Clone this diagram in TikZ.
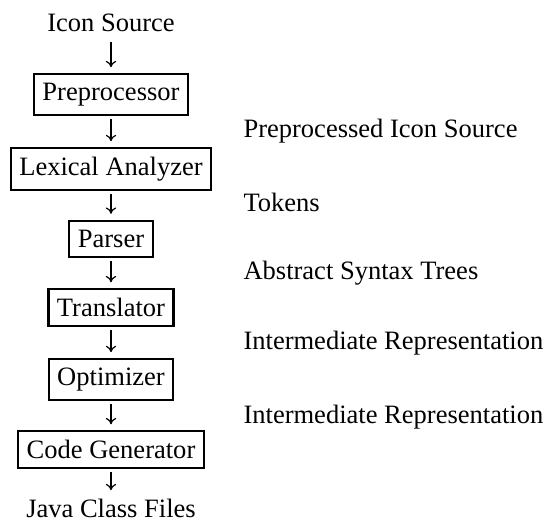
\documentclass[tikz,border=0pt]{standalone}
\usepackage{fontspec}
\setmainfont{Liberation Serif}
\usetikzlibrary{arrows.meta}

\begin{document}
\begin{tikzpicture}[x=0.377pt,y=-0.377pt,
  >={To[width=3.9pt,length=2.4pt]},
  phase/.style={draw,line width=0.8pt,inner xsep=3.2pt,minimum height=13.8pt},
  data/.style={inner sep=0pt,anchor=base west},
  flow/.style={->,line width=0.45pt,shorten <=1.1pt,shorten >=2.2pt}]
\useasboundingbox (0,0) rectangle (547,525);
% compiler phases
\node [anchor=base] (src) at (111,32) {Icon Source};
\node [phase] (pre) at (111,94.5) {Preprocessor};
\node [phase] (lex) at (111,169) {Lexical Analyzer};
\node [phase] (par) at (111,239) {Parser};
\node [phase] (tra) at (111,307.5) {Translator};
\node [phase] (opt) at (111,379.5) {Optimizer};
\node [phase] (gen) at (111,449.5) {Code Generator};
\node [anchor=base] (out) at (111,518) {Java Class Files};
% arrows
\draw [flow,shorten <=0pt] (src) -- (pre);
\draw [flow] (pre) -- (lex);
\draw [flow] (lex) -- (par);
\draw [flow] (par) -- (tra);
\draw [flow] (tra) -- (opt);
\draw [flow] (opt) -- (gen);
\draw [flow,shorten >=0pt] (gen) -- (out);
% what flows between the phases
\node [data] (d1) at (243,138) {Preprocessed Icon Source};
\node [data] (d2) at (243,212) {Tokens};
\node [data] (d3) at (243,280) {Abstract Syntax Trees};
\node [data] (d4) at (243,350) {Intermediate Representation};
\node [data] (d5) at (243,424) {Intermediate Representation};
\end{tikzpicture}
\end{document}
